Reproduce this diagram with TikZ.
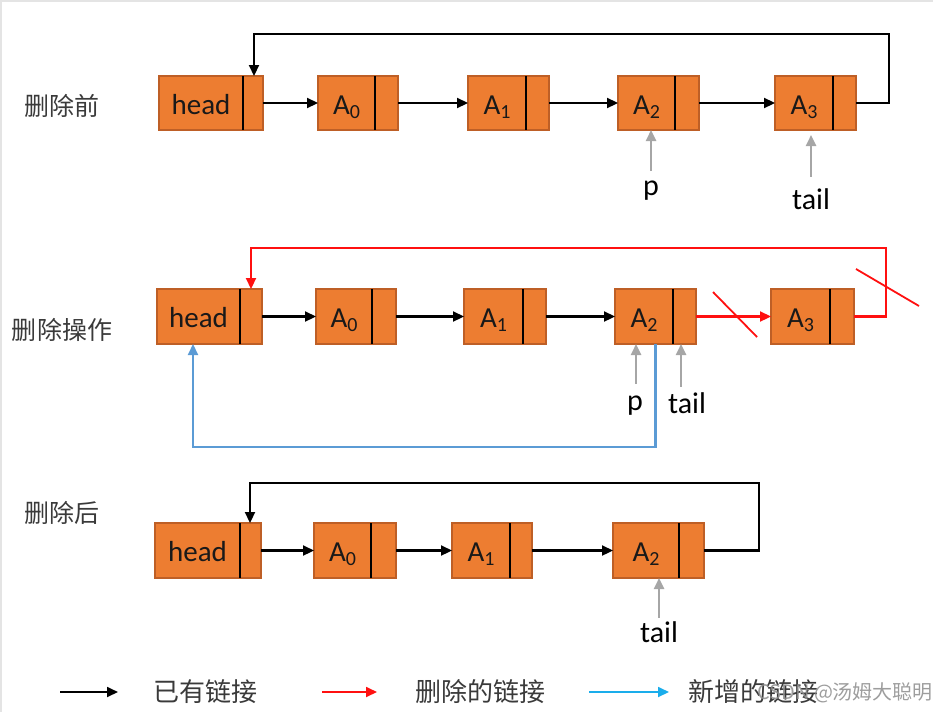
\documentclass[tikz,border=0pt]{standalone}
\usepackage{fontspec}
\setmainfont{Carlito}
\newfontfamily\cjk{Noto Sans CJK SC}
\usetikzlibrary{arrows.meta,calc}
\definecolor{cellfill}{HTML}{ED7D31}
\definecolor{celldraw}{HTML}{BE5F26}
\definecolor{ptrgray}{HTML}{A6A6A6}
\definecolor{lnkblue}{HTML}{5B9BD5}
\definecolor{lgdblue}{HTML}{1AADEB}
\definecolor{lblgray}{HTML}{3A3A3A}
\definecolor{framegray}{HTML}{E4E4E4}
\definecolor{lnkred}{HTML}{FF1010}
\newcommand\llcell[7]{%
  \node[cell, minimum width={(#4)-(#2)}, minimum height={(#5)-(#3)}] (#1) at ({((#2)+(#4))/2},{((#3)+(#5))/2}) {};
  \draw[divline] (#6,#3) -- (#6,#5);
  \node[celltext] at ({((#2)+(#6))/2},{((#3)+(#5))/2+11}) {#7};
}
\newcommand\subA[1]{A\raisebox{-4pt}{\fontsize{20}{20}\selectfont #1}}
\begin{document}
\begin{tikzpicture}[x=1pt,y=-1pt,
  cell/.style={draw=celldraw, fill=cellfill, line width=1.4pt, inner sep=0, outer sep=0},
  divline/.style={black, line width=1.1pt},
  celltext/.style={anchor=base, inner sep=0, text=black!90, font=\fontsize{29}{29}\selectfont},
  lnk/.style={line width=2.2pt, -{Triangle[length=11pt,width=10pt]}},
  blklnk/.style={lnk, draw=black},
  redlnk/.style={lnk, draw=lnkred},
  bluelnk/.style={lnk, draw=lnkblue},
  ptr/.style={draw=ptrgray, line width=2.4pt, -{Triangle[length=11pt,width=10pt]}},
  lbl/.style={anchor=base, inner sep=0, font=\fontsize{30}{30}\selectfont},
  cn/.style={inner sep=0, text=lblgray, font=\cjk\fontsize{25}{25}\selectfont},
  lgd/.style={inner sep=0, text=lblgray, font=\cjk\fontsize{26}{26}\selectfont},
  slash/.style={draw=lnkred, line width=1.8pt}
]
\useasboundingbox (0,0) rectangle (933,712);
\draw[framegray, line width=2.5pt] (1,712) -- (1,1) -- (933,1);

% ---------- row 1 ----------
\node[cn] (t1) at (62,106) {删除前};
\llcell{h1}{159}{76}{263}{130}{243}{head}
\llcell{a01}{318}{76}{398}{130}{375}{\subA{0}}
\llcell{a11}{468}{76}{549}{130}{526}{\subA{1}}
\llcell{a21}{618}{76}{699}{130}{675}{\subA{2}}
\llcell{a31}{775}{76}{856}{130}{833}{\subA{3}}
\draw[blklnk] (h1.east) -- (a01.west);
\draw[blklnk] (a01.east) -- (a11.west);
\draw[blklnk] (a11.east) -- (a21.west);
\draw[blklnk] (a21.east) -- (a31.west);
\coordinate (c1a) at (889,34);
\coordinate (c1b) at (254,34);
\draw[blklnk] (a31.east) -| (c1a) -- (c1b) -- (c1b |- h1.north);
\node[lbl] (p1) at (651,195) {p};
\node[lbl] (tl1) at (811,209) {tail};
\draw[ptr] ([yshift=9pt]p1.north) -- (p1.north |- a21.south);
\draw[ptr] ([yshift=11pt]tl1.north) -- ([yshift=-5pt]tl1.north |- a31.south);

% ---------- row 2 ----------
\node[cn] (t2) at (62,330) {删除操作};
\llcell{h2}{157}{289}{262}{344}{240}{head}
\llcell{a02}{316}{289}{396}{344}{372}{\subA{0}}
\llcell{a12}{464}{289}{546}{344}{523}{\subA{1}}
\llcell{a22}{615}{289}{696}{344}{673}{\subA{2}}
\llcell{a32}{771}{289}{854}{344}{830}{\subA{3}}
\draw[blklnk] (h2.east) -- (a02.west);
\draw[blklnk] (a02.east) -- (a12.west);
\draw[blklnk] (a12.east) -- (a22.west);
\draw[redlnk] (a22.east) -- (a32.west);
\coordinate (c2a) at (886,248);
\coordinate (c2b) at (251,248);
\draw[redlnk] (a32.east) -| (c2a) -- (c2b) -- (c2b |- h2.north);
\draw[slash] (713,292) -- (757,337);
\draw[slash] (856,269) -- (919,306);
\coordinate (bl) at (193,447);
\draw[bluelnk] (a22.south) |- (bl) -- (bl |- h2.south);
\node[lbl] (p2) at (635,410) {p};
\node[lbl] (tl2) at (687,413) {tail};
\draw[ptr] ([xshift=1pt,yshift=11pt]p2.north) -- ([xshift=1pt]p2.north |- a22.south);
\draw[ptr] ([xshift=-6pt,yshift=5pt]tl2.north) -- ([xshift=-6pt]tl2.north |- a22.south);

% ---------- row 3 ----------
\node[cn] (t3) at (62,513) {删除后};
\llcell{h3}{155}{523}{261}{578}{240}{head}
\llcell{a03}{314}{523}{396}{578}{371}{\subA{0}}
\llcell{a13}{452}{523}{532}{578}{510}{\subA{1}}
\llcell{a23}{613}{523}{704}{578}{679}{\subA{2}}
\draw[blklnk] (h3.east) -- (a03.west);
\draw[blklnk] (a03.east) -- (a13.west);
\draw[blklnk] (a13.east) -- (a23.west);
\coordinate (c3a) at (759,483);
\coordinate (c3b) at (250,483);
\draw[blklnk] (a23.east) -| (c3a) -- (c3b) -- (c3b |- h3.north);
\node[lbl] (tl3) at (659,642) {tail};
\draw[ptr] ([yshift=3pt]tl3.north) -- (tl3.north |- a23.south);

% ---------- legend ----------
\coordinate (lg1a) at (60,692);
\coordinate (lg1b) at (118,692);
\draw[blklnk, line width=1.8pt] (lg1a) -- (lg1b);
\node[lgd] (lt1) at (205,692) {已有链接};
\coordinate (lg2a) at (322,692);
\coordinate (lg2b) at (377,692);
\draw[redlnk, line width=1.8pt] (lg2a) -- (lg2b);
\node[lgd] (lt2) at (480,692) {删除的链接};
\coordinate (lg3a) at (589,692);
\coordinate (lg3b) at (669,692);
\draw[lnk, draw=lgdblue, line width=1.8pt] (lg3a) -- (lg3b);
\node[lgd] (lt3) at (753,692) {新增的链接};
\node[inner sep=0, anchor=west, text=black!45, opacity=0.85, font=\cjk\fontsize{20}{20}\selectfont] (wm) at (757,693) {CSDN @汤姆大聪明};
\end{tikzpicture}
\end{document}
